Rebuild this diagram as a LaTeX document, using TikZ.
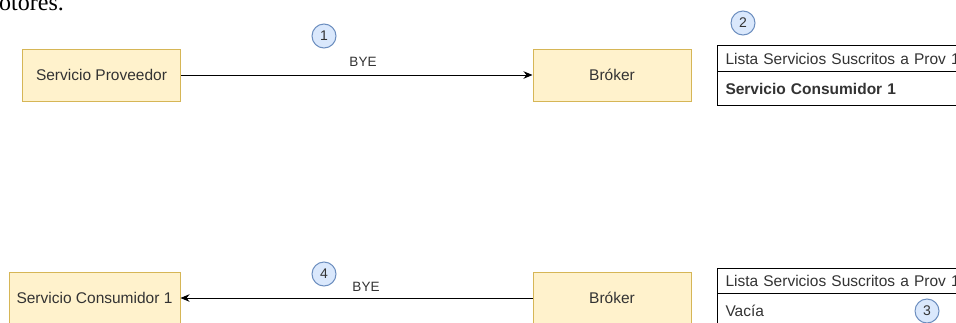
\documentclass[tikz,border=0pt]{standalone}
\usepackage{fontspec}
\setmainfont{Liberation Sans}
\newfontfamily\serifdoc{Liberation Serif}
\usetikzlibrary{arrows.meta}
\definecolor{boxfill}{HTML}{FFF2CC}
\definecolor{boxline}{HTML}{D6B656}
\definecolor{cfill}{HTML}{DAE8FC}
\definecolor{cline}{HTML}{6C8EBF}
\definecolor{txt}{HTML}{333333}
\begin{document}
\begin{tikzpicture}[x=1pt,y=-1pt,
  ybox/.style={draw=boxline, fill=boxfill, line width=1pt, minimum width=158pt, minimum height=52pt, inner sep=0pt, font=\fontsize{15.5}{18}\selectfont, text=txt},
  numc/.style={circle, draw=cline, fill=cfill, line width=1pt, minimum size=24pt, inner sep=0pt, font=\fontsize{14}{16}\selectfont, text=txt},
  cell/.style={draw=black, line width=1pt, anchor=north west, minimum width=260pt, text width=244pt, align=left, inner xsep=8pt, inner ysep=0pt, font=\fontsize{15.5}{18}\selectfont, text=txt},
  msg/.style={draw=black, line width=1pt, -{Stealth[length=9pt,width=7.5pt]}},
  lbl/.style={font=\fontsize{13.5}{16}\selectfont, text=txt}]
\useasboundingbox (0,0) rectangle (956,322);
\clip (0,0) rectangle (956,322);
\fill[white] (0,0) rectangle (956,322);
% cut-off document text
\node[anchor=base west, inner sep=0pt, font=\serifdoc\fontsize{24}{28}\selectfont] (doc) at (-1,10.5) {otores.};
% top row
\node[ybox] (sp) at (101.5,75) {Servicio Proveedor};
\node[ybox] (b1) at (612,75) {Bróker};
\draw[msg] (sp) -- (b1);
\node[lbl] (bye1) at (363,62) {BYE};
\node[numc] (n1) at (324,36) {1};
\node[cell, minimum height=26pt] (h1) at (717,45) {Lista Servicios Suscritos a Prov 1};
\node[cell, minimum height=34pt] (r1) at (717,71) {\bfseries Servicio Consumidor 1};
\node[numc] (n2) at (743,23) {2};
% bottom row
\node[ybox, minimum width=171pt] (sc) at (94.5,298) {Servicio Consumidor 1};
\node[ybox] (b2) at (612,298) {Bróker};
\draw[msg] (b2) -- (sc);
\node[lbl] (bye2) at (366,287) {BYE};
\node[numc] (n4) at (324,274) {4};
\node[cell, minimum height=25pt] (h2) at (717,268) {Lista Servicios Suscritos a Prov 1};
\node[cell, minimum height=34pt] (r2) at (717,293) {Vacía};
\node[numc] (n3) at (927,311) {3};
\end{tikzpicture}
\end{document}
